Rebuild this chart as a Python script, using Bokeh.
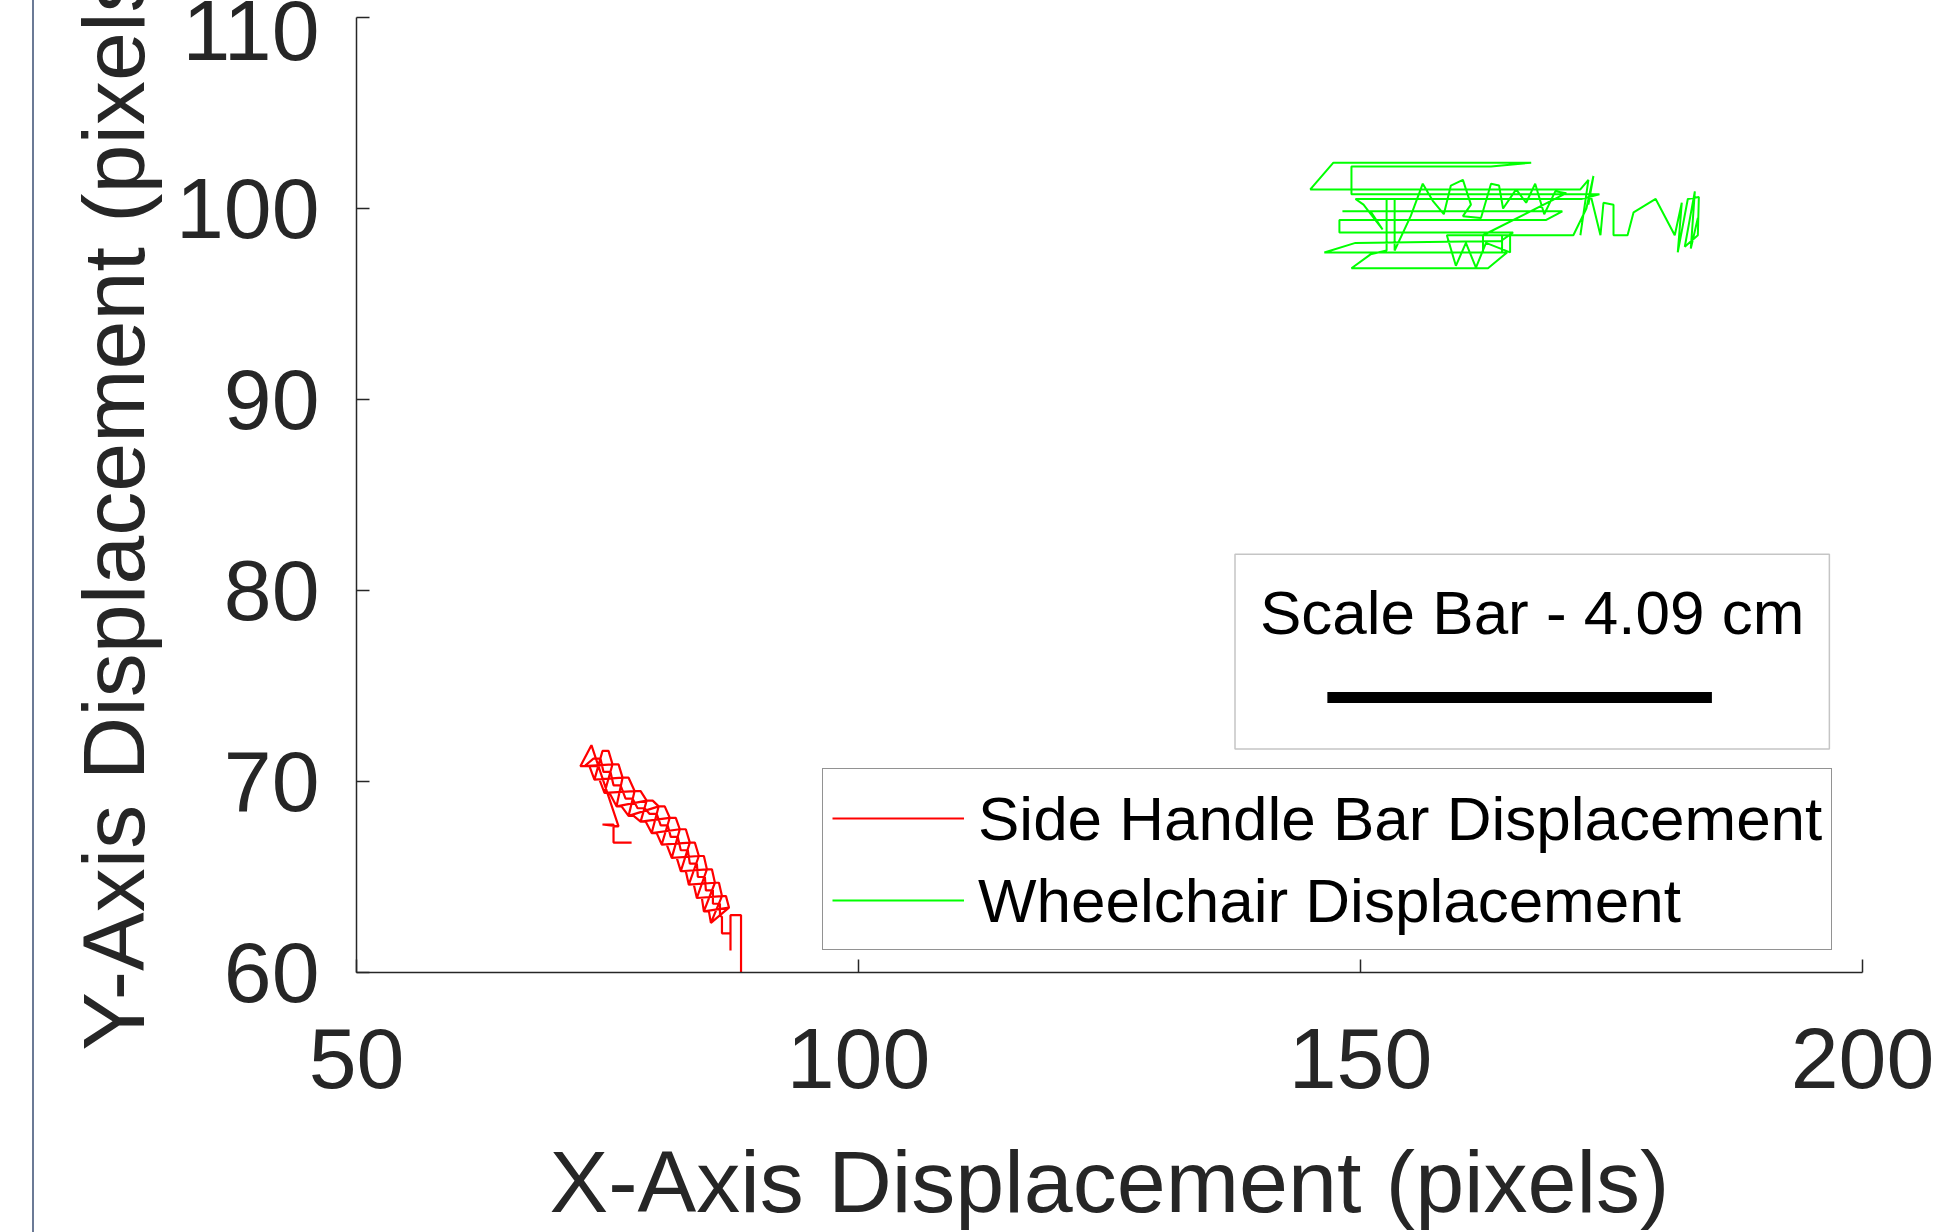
from bokeh.plotting import figure
from bokeh.models import BoxAnnotation, Label, Range1d, FixedTicker
from bokeh.embed import file_html
from bokeh.resources import INLINE

# ---------------- data ----------------
X_TICKS = [50, 100, 150, 200]
Y_TICKS = [60, 70, 80, 90, 100, 110]
X_LIMITS = [50, 200]
Y_LIMITS = [60, 110]

X_LABEL = "X-Axis Displacement (pixels)"
Y_LABEL = "Y-Axis Displacement (pixels)"
SERIES_NAMES = ["Side Handle Bar Displacement", "Wheelchair Displacement"]
SCALE_TEXT = "Scale Bar - 4.09 cm"

# Side handle bar trajectory (red)
red_x = [77.4, 75.6, 75.6, 74.5, 76.1, 73.4,
         72.3, 74.3,
         72.7, 75.5, 74.7, 77.7, 77.1, 80.1, 79.4, 82.2, 81.4, 84.1, 83.1, 85.7, 84.6, 87.1,
         85.3, 86.4, 83.9, 84.9, 82.3, 83.2, 80.4, 81.2, 78.3, 78.9, 75.9, 76.5, 73.7, 74.5,
         75.1, 75.5, 76.1, 76.5, 77.1, 77.7, 78.3, 78.9, 79.5, 80.1, 80.7, 81.2, 81.8,
         82.2, 82.8, 83.2, 83.7, 84.1, 84.6, 84.9, 85.4, 85.7, 86.1, 86.4, 86.8, 87.1,
         85.3, 85.1, 84.6, 84.4, 83.9, 83.6, 83.1, 82.8, 82.3, 81.9, 81.4, 80.9, 80.4,
         79.9, 79.4, 78.8, 78.3, 77.6, 77.1, 76.4, 75.9, 75.2, 74.7, 74.2, 73.7, 73.2, 72.7,
         73.6, 74.3, 74.6, 75.3, 75.6, 76.3, 76.8, 77.5, 78.0, 78.7, 79.2, 79.9, 80.3, 81.0,
         81.3, 82.0, 82.3, 83.0, 83.2, 83.9, 84.0, 84.7, 84.8, 85.5, 85.5, 86.2, 86.2,
         86.4, 86.4, 87.25, 87.25, 87.25, 88.3, 88.3]
red_y = [66.8, 66.8, 67.75, 67.75, 67.65, 71.9,
         70.8, 70.8,
         70.8, 70.9, 69.4, 69.5, 68.2, 68.7, 67.3, 67.5, 66.0, 66.1, 64.6, 64.7, 63.2, 63.4,
         62.6, 64.0, 63.9, 65.4, 65.3, 66.8, 66.7, 68.1, 67.9, 69.0, 68.7, 70.2, 70.1, 71.6,
         71.6, 70.9, 70.9, 70.2, 70.2, 69.5, 69.5, 69.0, 69.0, 68.7, 68.7, 68.1, 68.1,
         67.5, 67.5, 66.8, 66.8, 66.1, 66.1, 65.4, 65.4, 64.7, 64.7, 64.0, 64.0, 63.4,
         62.6, 63.2, 63.2, 63.9, 63.9, 64.6, 64.6, 65.3, 65.3, 66.0, 66.0, 66.7, 66.7,
         67.3, 67.3, 67.9, 67.9, 68.2, 68.2, 68.7, 68.7, 69.4, 69.4, 70.1, 70.1, 70.8, 70.8,
         71.2, 71.2, 70.5, 70.5, 69.8, 69.8, 69.1, 69.1, 68.6, 68.6, 68.3, 68.3, 67.7, 67.7,
         67.1, 67.1, 66.4, 66.4, 65.7, 65.7, 65.0, 65.0, 64.3, 64.3, 63.6, 63.6, 63.0,
         62.9, 62.05, 62.05, 61.15, 63.0, 63.0, 60.0]

# Wheelchair trajectory (green)
green_x = [171.9, 172.7, 171.9, 145.0, 147.3, 167.0, 163.0, 149.1, 149.1, 173.8,
           172.0, 149.5, 150.3, 152.2, 151.0, 148.2, 170.1, 168.5, 147.9, 147.9,
           165.2, 164.0, 149.5, 146.4, 164.6, 162.7, 149.1, 151.0, 152.6, 152.6,
           153.4, 153.4,
           155.0, 156.2, 157.2, 158.3, 159.0, 160.2, 161.0, 160.2, 162.0, 163.0,
           163.8, 164.2, 165.5, 166.5, 167.4, 168.3, 169.4, 170.5,
           162.2, 162.2, 164.1, 164.1, 164.9, 164.9, 162.5, 161.5, 160.5, 159.5,
           158.6, 171.2, 172.5, 173.2, 172.7, 172.9,
           173.9, 174.2, 175.2, 175.2, 176.6, 177.2, 179.4, 181.3, 182.0, 181.6,
           182.6, 183.7, 183.6, 182.3, 183.3, 182.9, 183.6]
green_y = [98.6, 101.5, 101.0, 101.0, 102.4, 102.4, 102.2, 102.2, 100.75, 100.75,
           100.5, 100.5, 100.2, 98.9, 99.85, 99.85, 99.85, 99.4, 99.4, 98.75,
           98.75, 98.3, 98.2, 97.7, 97.7, 96.87, 96.87, 97.6, 97.8, 100.5,
           100.5, 97.8,
           99.6, 101.3, 100.4, 99.7, 101.2, 101.5, 100.2, 99.6, 99.5, 101.3,
           101.2, 100.0, 101.0, 100.3, 101.3, 99.7, 100.9, 100.8,
           98.6, 97.7, 97.7, 98.6, 98.6, 97.7, 98.2, 96.9, 98.2, 97.0,
           98.6, 98.6, 100.0, 101.7, 100.2, 100.75,
           98.6, 100.3, 100.2, 98.6, 98.6, 99.8, 100.5, 98.6, 100.3, 97.7,
           100.5, 100.6, 98.6, 98.0, 100.9, 97.9, 99.5]

# scale bar annotation (data units)
scale_bar_x = [146.7, 185.0]
scale_bar_y = [74.4, 74.4]
scale_box = [137.5, 196.7, 71.7, 81.9]   # left, right, bottom, top
scale_text_pos = [167.1, 78.87]

# ---------------- figure ----------------
FONT = "Liberation Sans"
AX = "#262626"

p = figure(frame_width=1506, frame_height=955,
           x_range=Range1d(*X_LIMITS), y_range=Range1d(*Y_LIMITS),
           output_backend="svg", toolbar_location=None,
           min_border_left=356, min_border_right=82,
           min_border_top=17, min_border_bottom=260)
p.outline_line_color = None
p.grid.visible = False
p.background_fill_color = "white"
p.border_fill_color = None
p.styles = {"background": "linear-gradient(to right, #ffffff 0px, #ffffff 32px, "
                          "#6b7a96 32px, #6b7a96 34px, #ffffff 34px, #ffffff 100%)"}

for ax, ticks in ((p.xaxis[0], X_TICKS), (p.yaxis[0], Y_TICKS)):
    ax.ticker = FixedTicker(ticks=ticks)
    ax.minor_tick_line_color = None
    ax.major_tick_in = 13
    ax.major_tick_out = 0
    ax.axis_line_color = AX
    ax.axis_line_width = 1.5
    ax.major_tick_line_color = AX
    ax.major_tick_line_width = 1.5
    ax.major_label_text_font = FONT
    ax.major_label_text_font_size = "86px"
    ax.major_label_text_color = AX
    ax.axis_label_text_font = FONT
    ax.axis_label_text_font_size = "88px"
    ax.axis_label_text_font_style = "normal"
    ax.axis_label_text_color = AX

p.xaxis.axis_label = X_LABEL
p.yaxis.axis_label = Y_LABEL
p.xaxis.major_label_standoff = 56
p.xaxis.axis_label_standoff = 41
p.yaxis.major_label_standoff = 37
p.yaxis.axis_label_standoff = 10

# scale bar box + text + bar
box = BoxAnnotation(left=scale_box[0], right=scale_box[1],
                    bottom=scale_box[2], top=scale_box[3],
                    fill_color="white", fill_alpha=1.0,
                    line_color="#404040", line_width=1.5, level="underlay")
p.add_layout(box)
p.line(scale_bar_x, scale_bar_y, line_width=11, color="black")
p.add_layout(Label(x=scale_text_pos[0], y=scale_text_pos[1], text=SCALE_TEXT,
                   text_align="center", text_baseline="middle",
                   text_font=FONT, text_font_size="62px", text_color="black"))

# trajectories
p.line(red_x, red_y, color="#FF0000", line_width=2.2, legend_label=SERIES_NAMES[0])
p.line(green_x, green_y, color="#00FF00", line_width=2, legend_label=SERIES_NAMES[1])

leg = p.legend[0]
leg.location = (466, 22)
leg.margin = 0
leg.padding = 9
leg.spacing = 2
leg.glyph_width = 132
leg.glyph_height = 80
leg.label_height = 80
leg.label_standoff = 14
leg.label_text_font = FONT
leg.label_text_font_size = "62px"
leg.label_text_color = "black"
leg.border_line_color = AX
leg.border_line_width = 1.5
leg.background_fill_color = "white"
leg.background_fill_alpha = 1.0

open("out.html", "w").write(file_html(p, INLINE))
